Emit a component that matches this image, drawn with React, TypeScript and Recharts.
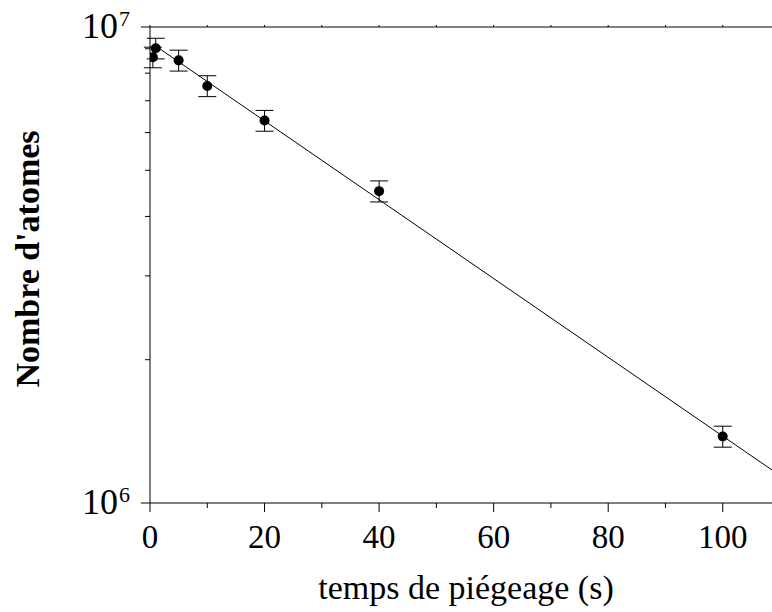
import React from "react";
import { ComposedChart, Scatter, XAxis, YAxis, ErrorBar } from "recharts";

// mesures : temps de piégeage (s) et nombre d'atomes
const times = [0.5, 1, 5, 10, 20, 40, 100];
const atoms = [8.64e6, 9.02e6, 8.51e6, 7.52e6, 6.36e6, 4.52e6, 1.38e6];
const errors = [0.43e6, 0.45e6, 0.43e6, 0.38e6, 0.32e6, 0.23e6, 0.07e6];

// ajustement exponentiel (droite en échelle log)
const fitTimes = [1, 108.6];
const fitAtoms = [9.12e6, 1.173e6];

const xTicks = [0, 10, 20, 30, 40, 50, 60, 70, 80, 90, 100];
const yTicks = [1e6, 2e6, 3e6, 4e6, 5e6, 6e6, 7e6, 8e6, 9e6, 1e7];

const points = times.map((t, i) => ({ t, n: atoms[i], err: errors[i] }));
const fit = fitTimes.map((t, i) => ({ t, n: fitAtoms[i] }));

const FONT = "'Liberation Serif', 'Times New Roman', serif";

const BottomTick = (props: any) => {
  const { x, y, payload } = props;
  const major = payload.value % 20 === 0;
  return (
    <g>
      <line x1={x} x2={x} y1={y} y2={y + (major ? 9 : 5)} stroke="#000" strokeWidth={1} />
      {major && (
        <text x={x} y={y + 45} textAnchor="middle" fontSize={33} fontFamily={FONT} fill="#000">
          {payload.value}
        </text>
      )}
    </g>
  );
};

const TopTick = (props: any) => {
  const { x, y } = props;
  return <line x1={x} x2={x} y1={y} y2={y - 2} stroke="#000" strokeWidth={1} />;
};

const LeftTick = (props: any) => {
  const { x, y, payload } = props;
  const v = payload.value;
  const major = v === 1e6 || v === 1e7;
  return (
    <g>
      <line x1={x} x2={x - (major ? 9 : 5)} y1={y} y2={y} stroke="#000" strokeWidth={1} />
      {major && (
        <text x={x - 32} y={y + 10.5} textAnchor="end" fontSize={36} fontFamily={FONT} fill="#000">
          10
        </text>
      )}
      {major && (
        <text x={x - 31} y={y - 1} textAnchor="start" fontFamily={FONT} fontSize={22} fill="#000">
          {v === 1e6 ? "6" : "7"}
        </text>
      )}
    </g>
  );
};

const XTitle = () => (
  <text x={466} y={599} textAnchor="middle" fontSize={34} fontFamily={FONT} fill="#000">
    temps de piégeage (s)
  </text>
);

const YTitle = () => (
  <text
    x={39}
    y={259}
    transform="rotate(-90, 39, 259)"
    textAnchor="middle"
    fontSize={34}
    fontWeight="bold"
    fontFamily={FONT}
    fill="#000"
  >
    Nombre d'atomes
  </text>
);

const Dot = (props: any) => <circle cx={props.cx} cy={props.cy} r={5} fill="#000" />;
const NoDot = () => <g />;

export default function App() {
  return (
    <div style={{ position: "absolute", left: 0, top: 0, background: "#fff" }}>
      <ComposedChart width={772} height={612} margin={{ top: 0, right: 0, bottom: 0, left: 0 }}>
        <XAxis
          xAxisId="top"
          orientation="top"
          type="number"
          dataKey="t"
          domain={[0, 108.6]}
          ticks={xTicks}
          height={27}
          tickSize={0}
          tickMargin={0}
          tick={<TopTick />}
          tickLine={false}
          axisLine={{ stroke: "#000" }}
          allowDataOverflow
        />
        <XAxis
          type="number"
          dataKey="t"
          domain={[0, 108.6]}
          ticks={xTicks}
          height={109}
          tickSize={0}
          tickMargin={0}
          tick={<BottomTick />}
          tickLine={false}
          axisLine={{ stroke: "#000" }}
          interval={0}
          allowDataOverflow
          label={<XTitle />}
        />
        <YAxis
          type="number"
          dataKey="n"
          scale="log"
          domain={[1e6, 1e7]}
          ticks={yTicks}
          width={150}
          tickSize={0}
          tickMargin={0}
          tick={<LeftTick />}
          tickLine={false}
          axisLine={{ stroke: "#000" }}
          interval={0}
          allowDataOverflow
          label={<YTitle />}
        />
        <Scatter
          data={fit}
          line={{ stroke: "#000", strokeWidth: 1 }}
          shape={<NoDot />}
          isAnimationActive={false}
        />
        <Scatter data={points} shape={<Dot />} isAnimationActive={false}>
          <ErrorBar dataKey="err" direction="y" width={9} stroke="#000" strokeWidth={1} />
        </Scatter>
      </ComposedChart>
    </div>
  );
}
